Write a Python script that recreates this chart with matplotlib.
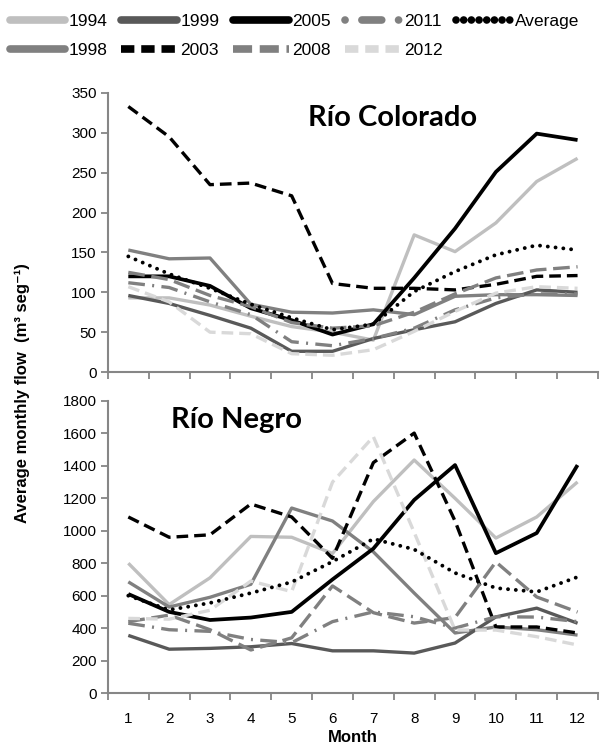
import numpy as np
import matplotlib
matplotlib.use("Agg")
import matplotlib.pyplot as plt
from matplotlib.lines import Line2D

plt.rcParams['font.family'] = ['Liberation Sans', 'DejaVu Sans']

months = list(range(1, 13))
years = ["1994", "1998", "1999", "2003", "2005", "2008", "2011", "2012", "Average"]

# Rio Colorado, m3/s
colorado_1994 = [93, 93, 84, 70, 57, 50, 40, 172, 151, 187, 239, 268]
colorado_1998 = [153, 142, 143, 85, 75, 74, 78, 72, 95, 97, 97, 96]
colorado_1999 = [96, 86, 71, 55, 26, 26, 42, 53, 63, 86, 103, 100]
colorado_2003 = [333, 295, 235, 237, 221, 111, 105, 105, 103, 110, 120, 121]
colorado_2005 = [120, 120, 108, 80, 65, 47, 60, 118, 180, 251, 299, 291]
colorado_2008 = [125, 116, 96, 82, 62, 55, 58, 75, 98, 118, 128, 132]
colorado_2011 = [112, 106, 88, 72, 38, 33, 42, 55, 78, 93, 98, 98]
colorado_2012 = [107, 88, 50, 48, 23, 21, 28, 51, 76, 99, 107, 105]
colorado_avg = [145, 123, 105, 85, 68, 53, 60, 101, 126, 147, 159, 153]

# Rio Negro, m3/s
negro_1994 = [800, 545, 710, 965, 960, 860, 1180, 1436, 1200, 955, 1085, 1301]
negro_1998 = [685, 530, 590, 670, 1140, 1060, 870, 616, 370, 407, 390, 357]
negro_1999 = [355, 270, 275, 285, 305, 260, 260, 246, 308, 469, 523, 430]
negro_2003 = [1085, 960, 975, 1165, 1085, 830, 1420, 1602, 1060, 407, 407, 370]
negro_2005 = [610, 500, 450, 465, 500, 700, 890, 1190, 1405, 862, 986, 1405]
negro_2008 = [440, 480, 390, 265, 340, 660, 495, 431, 465, 808, 592, 499]
negro_2011 = [430, 390, 380, 330, 310, 440, 500, 470, 400, 470, 468, 440]
negro_2012 = [460, 455, 510, 690, 625, 1300, 1580, 990, 388, 388, 347, 296]
negro_avg = [600, 512, 555, 616, 684, 810, 950, 885, 740, 647, 623, 715]

colorado = [colorado_1994, colorado_1998, colorado_1999, colorado_2003, colorado_2005,
            colorado_2008, colorado_2011, colorado_2012, colorado_avg]
negro = [negro_1994, negro_1998, negro_1999, negro_2003, negro_2005,
         negro_2008, negro_2011, negro_2012, negro_avg]

styles = {
    "1994": dict(color="#bfbfbf", lw=2.4),
    "1998": dict(color="#808080", lw=2.4),
    "1999": dict(color="#595959", lw=2.4),
    "2003": dict(color="#000000", lw=2.4, dashes=(3.5, 1.8)),
    "2005": dict(color="#000000", lw=2.7),
    "2008": dict(color="#808080", lw=2.4, dashes=(5, 2)),
    "2011": dict(color="#808080", lw=2.4, dashes=(5, 2.2, 0.6, 2.2)),
    "2012": dict(color="#d9d9d9", lw=2.4, dashes=(3.5, 1.8)),
    "Average": dict(color="#000000", lw=2.8, dashes=(0.01, 2.0), dash_capstyle="round"),
}

fig = plt.figure(figsize=(6.13, 7.54), dpi=100)
ax1 = fig.add_axes([0.176, 0.5066, 0.7995, 0.3701])
ax2 = fig.add_axes([0.176, 0.0809, 0.7995, 0.3873])


def style_axis(ax, series, ymax, ystep, labels):
    for name, data in zip(years, series):
        ax.plot(months, data, solid_capstyle="butt", **styles[name])
    ax.set_xlim(0.5, 12.5)
    ax.set_ylim(0, ymax)
    ax.set_yticks(np.arange(0, ymax + 1, ystep))
    ax.set_xticks(np.arange(0.5, 13, 1))
    ax.set_xticklabels([])
    ax.set_xticks(months, minor=True)
    if labels:
        ax.set_xticklabels([str(m) for m in months], minor=True)
    ax.tick_params(axis="x", which="minor", length=0, labelsize=11, pad=14)
    ax.tick_params(axis="x", which="major", length=5, width=1.3, color="#868686", direction="out")
    ax.tick_params(axis="y", length=5, width=1.3, color="#868686", labelsize=11, pad=3)
    for s in ["top", "right"]:
        ax.spines[s].set_visible(False)
    for s in ["left", "bottom"]:
        ax.spines[s].set_color("#868686")
        ax.spines[s].set_linewidth(1.5)


style_axis(ax1, colorado, 350, 50, False)
style_axis(ax2, negro, 1800, 200, True)

ax1.text(0.58, 0.91, "Río Colorado", transform=ax1.transAxes, ha="center", va="center",
         fontsize=21, fontweight="bold", family=["Lato", "DejaVu Sans"])
ax2.text(0.262, 0.935, "Río Negro", transform=ax2.transAxes, ha="center", va="center",
         fontsize=21, fontweight="bold", family=["Lato", "DejaVu Sans"])

fig.text(0.036, 0.479, "Average monthly flow  (m³ seg⁻¹)", rotation=90, ha="center", va="center",
         fontsize=12, fontweight="bold")
fig.text(0.576, 0.012, "Month", ha="center", va="bottom", fontsize=12, fontweight="bold")

# legend keys are drawn thicker than the plot lines
handles = []
for name in years:
    st = dict(styles[name])
    st["lw"] = 5.5
    if "dashes" in st:
        st["dashes"] = tuple(d * 0.5 for d in st["dashes"])
    if name == "2011":
        st["dashes"] = (0.01, 2.2, 2.6, 2.2)
        st["dash_capstyle"] = "round"
    handles.append(Line2D([], [], solid_capstyle="round", **st))
fig.legend(handles, years, loc="upper left", bbox_to_anchor=(0.0, 0.994), ncol=5,
           frameon=False, fontsize=12.5, handlelength=3.2, handletextpad=0.2,
           columnspacing=0.8, labelspacing=0.8, borderaxespad=0.15)

fig.savefig("out.png", dpi=100)
